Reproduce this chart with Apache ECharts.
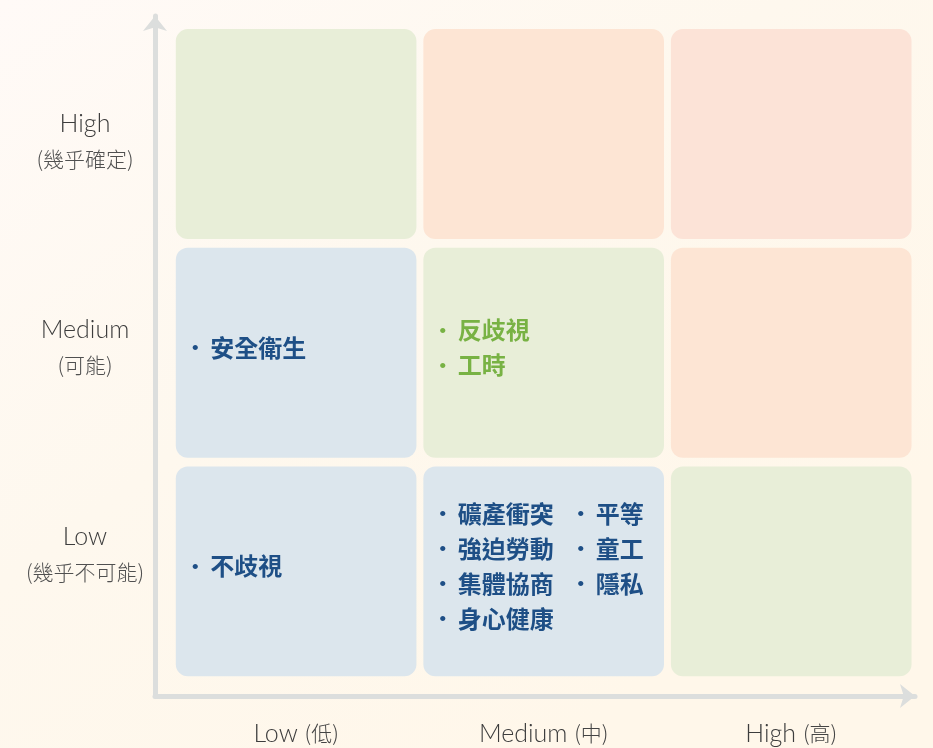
<!DOCTYPE html>
<html>
<head>
<meta charset="utf-8">
<title>Risk matrix</title>
<script src="https://cdn.jsdelivr.net/npm/echarts@6/dist/echarts.min.js"></script>
<style>
  html, body { margin: 0; padding: 0; }
  #chart { width: 933px; height: 748px; }
</style>
</head>
<body>
<div id="chart"></div>
<script>
// axis categories (index 0 = Low)
const xLabels = ['Low', 'Medium', 'High']
const xLabelsZh = ['低', '中', '高']
const yLabels = ['Low', 'Medium', 'High']
const yLabelsZh = ['幾乎不可能', '可能', '幾乎確定']

// cell level per [x, y]: 'low' = blue, 'mid' = green, 'high' = orange, 'top' = red
const cellLevels = [
  [0, 0, 'low'], [1, 0, 'low'], [2, 0, 'mid'],
  [0, 1, 'low'], [1, 1, 'mid'], [2, 1, 'high'],
  [0, 2, 'mid'], [1, 2, 'high'], [2, 2, 'top']
]

// items listed inside cells, split in text columns
const cellItems = {
  '0,0': [['不歧視']],
  '1,0': [['礦產衝突', '強迫勞動', '集體協商', '身心健康'], ['平等', '童工', '隱私']],
  '0,1': [['安全衛生']],
  '1,1': [['反歧視', '工時']]
}

const levelColors = {
  low: '#dce6ed',
  mid: '#e8eed8',
  high: '#fde5d4',
  top: '#fce3d7'
}
const textColors = { low: '#1e4f86', mid: '#78b244' }
const cjkFont = 'Noto Sans CJK TC'

const chart = echarts.init(document.getElementById('chart'))

const renderCell = (params, api) => {
  const col = api.value(0)
  const row = api.value(1)
  const level = cellLevels[params.dataIndex][2]
  const center = api.coord([col, row])
  const size = api.size([1, 1])
  const w = size[0] * 0.972
  const h = size[1] * 0.96
  const x0 = center[0] - w / 2
  const y0 = center[1] - h / 2
  const children = [{
    type: 'rect',
    shape: { x: x0, y: y0, width: w, height: h, r: 12 },
    style: { fill: levelColors[level] }
  }]
  const cols = cellItems[col + ',' + row]
  if (cols) {
    const lineH = 35
    const nLines = Math.max(...cols.map(c => c.length))
    const top = center[1] - nLines * lineH / 2 - 5
    const color = textColors[level]
    cols.forEach((items, ci) => {
      const colX = x0 + ci * 138
      // bullets
      children.push({
        type: 'text',
        style: {
          x: colX + 19.5,
          y: top,
          text: items.map(() => '·').join('\n'),
          align: 'center',
          verticalAlign: 'top',
          fill: color,
          font: 'bold 20px "' + cjkFont + '"',
          lineHeight: lineH
        }
      })
      // item names
      children.push({
        type: 'text',
        style: {
          x: colX + 34.5,
          y: top,
          text: items.join('\n'),
          align: 'left',
          verticalAlign: 'top',
          fill: color,
          font: 'bold 24px "' + cjkFont + '"',
          lineHeight: lineH
        }
      })
    })
  }
  return { type: 'group', children }
}

// vertical nudge of each y label block (px, + = down)
const yLabelNudge = [-17, -5, 7]
const yRich = {}
yLabelNudge.forEach((d, i) => {
  const pad = [d > 0 ? 2 * d : 0, 0, d < 0 ? -2 * d : 0, 0]
  yRich['t' + i] = {
    fontSize: 25, fontFamily: 'Lato', fontWeight: 300, color: '#3d3d3d', lineHeight: 35, padding: pad
  }
  yRich['s' + i] = {
    fontSize: 21, fontFamily: cjkFont, fontWeight: 300, color: '#505050', lineHeight: 35, padding: pad
  }
})

const axisLine = {
  show: true,
  onZero: false,
  symbol: ['none', 'arrow'],
  symbolSize: [18, 15],
  lineStyle: { color: '#dcdedd', width: 5 }
}

const option = {
  backgroundColor: {
    type: 'linear', x: 0, y: 0, x2: 0.6, y2: 1,
    colorStops: [
      { offset: 0, color: '#fffaf7' },
      { offset: 0.5, color: '#fef8ee' },
      { offset: 1, color: '#fff7ea' }
    ]
  },
  animation: false,
  grid: { left: 155, right: 18, top: 16, bottom: 52 },
  xAxis: {
    type: 'value',
    min: -0.57,
    max: 2.5,
    splitLine: { show: false },
    axisTick: { show: false },
    axisLine: axisLine,
    axisLabel: {
      customValues: [0, 1, 2],
      margin: 25,
      formatter: v => '{a|' + xLabels[Math.round(v)] + ' }{b|(' + xLabelsZh[Math.round(v)] + ')}',
      rich: {
        a: { fontSize: 25, fontFamily: 'Lato', fontWeight: 300, color: '#3d3d3d' },
        b: { fontSize: 21, fontFamily: cjkFont, fontWeight: 300, color: '#444' }
      }
    }
  },
  yAxis: {
    type: 'value',
    min: -0.57,
    max: 2.54,
    splitLine: { show: false },
    axisTick: { show: false },
    axisLine: axisLine,
    axisLabel: {
      customValues: [0, 1, 2],
      margin: 70,
      align: 'center',
      formatter: v => {
        const i = Math.round(v)
        return '{t' + i + '|' + yLabels[i] + '}\n{s' + i + '|(' + yLabelsZh[i] + ')}'
      },
      rich: yRich
    }
  },
  series: [{
    type: 'custom',
    renderItem: renderCell,
    data: cellLevels.map(c => [c[0], c[1]]),
    z: 1
  }]
}

chart.setOption(option)
</script>
</body>
</html>
